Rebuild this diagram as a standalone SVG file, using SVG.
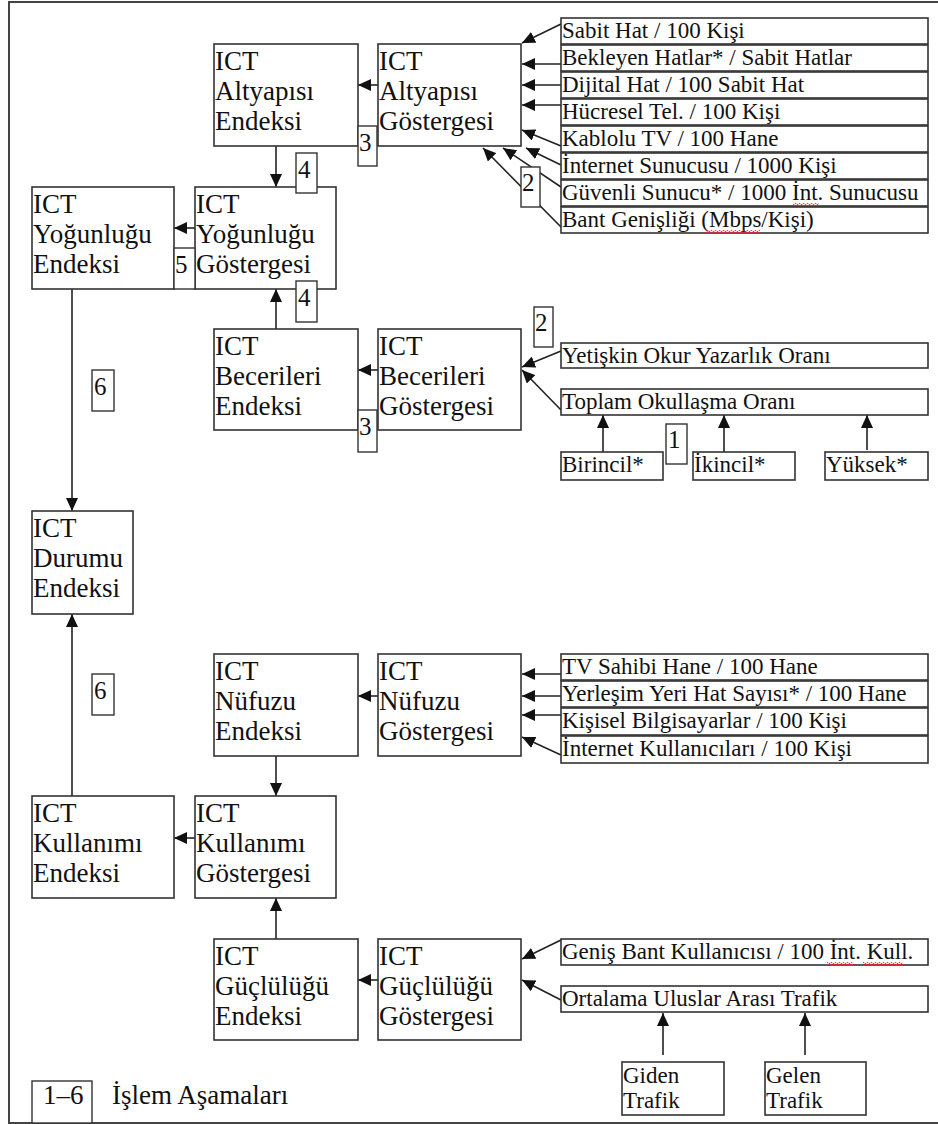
<svg xmlns="http://www.w3.org/2000/svg" width="938" height="1124" viewBox="0 0 938 1124">
<style>
.box{fill:#fff;stroke:#333;stroke-width:1.6}
.num{fill:#fff;stroke:#333;stroke-width:1.4}
text{font-family:'Liberation Serif',Tinos,'Times New Roman','DejaVu Serif',serif;fill:#111}
.t{font-size:27px}
.s{font-size:23px}
.n{font-size:25px}
.c{stroke:#222;stroke-width:1.6;fill:none}
.frame{stroke:#444;stroke-width:2;fill:none}
</style>
<defs>
<marker id="ah" markerUnits="userSpaceOnUse" markerWidth="14" markerHeight="12" refX="13" refY="6" orient="auto">
<path d="M0,0 L13,6 L0,12 z" fill="#111"/>
</marker>
<pattern id="wavy" patternUnits="userSpaceOnUse" width="4" height="3">
<polyline points="0,2.5 1,0.5 2,0.5 3,2.5 4,2.5" fill="none" stroke="#d33" stroke-width="0.9"/>
</pattern>
</defs>
<rect width="938" height="1124" fill="#fff"/>
<path class="frame" d="M938,2 H9 V1123 H938"/>

<g id="connectors">
<line class="c" x1="378" y1="85" x2="358" y2="85" marker-end="url(#ah)"/>
<line class="c" x1="276" y1="146" x2="276" y2="187" marker-end="url(#ah)"/>
<line class="c" x1="195" y1="228" x2="174" y2="228" marker-end="url(#ah)"/>
<line class="c" x1="276" y1="329" x2="276" y2="289" marker-end="url(#ah)"/>
<line class="c" x1="378" y1="370" x2="358" y2="370" marker-end="url(#ah)"/>
<line class="c" x1="72" y1="289" x2="72" y2="511" marker-end="url(#ah)"/>
<line class="c" x1="72" y1="796" x2="72" y2="614" marker-end="url(#ah)"/>
<line class="c" x1="378" y1="696" x2="358" y2="696" marker-end="url(#ah)"/>
<line class="c" x1="276" y1="756" x2="276" y2="796" marker-end="url(#ah)"/>
<line class="c" x1="195" y1="838" x2="174" y2="838" marker-end="url(#ah)"/>
<line class="c" x1="276" y1="939" x2="276" y2="898" marker-end="url(#ah)"/>
<line class="c" x1="378" y1="980" x2="358" y2="980" marker-end="url(#ah)"/>
<line class="c" x1="561" y1="24" x2="522" y2="43" marker-end="url(#ah)"/>
<line class="c" x1="561" y1="64" x2="522" y2="64" marker-end="url(#ah)"/>
<line class="c" x1="561" y1="85" x2="522" y2="85" marker-end="url(#ah)"/>
<line class="c" x1="561" y1="105" x2="522" y2="105" marker-end="url(#ah)"/>
<line class="c" x1="561" y1="146" x2="522" y2="130" marker-end="url(#ah)"/>
<line class="c" x1="561" y1="165" x2="526" y2="148" marker-end="url(#ah)"/>
<line class="c" x1="561" y1="187" x2="503" y2="148" marker-end="url(#ah)"/>
<line class="c" x1="561" y1="227" x2="483" y2="148" marker-end="url(#ah)"/>
<line class="c" x1="561" y1="351" x2="522" y2="367" marker-end="url(#ah)"/>
<line class="c" x1="561" y1="410" x2="522" y2="370" marker-end="url(#ah)"/>
<line class="c" x1="603" y1="452" x2="603" y2="415" marker-end="url(#ah)"/>
<line class="c" x1="724" y1="452" x2="724" y2="415" marker-end="url(#ah)"/>
<line class="c" x1="867" y1="450" x2="867" y2="415" marker-end="url(#ah)"/>
<line class="c" x1="561" y1="674" x2="522" y2="674" marker-end="url(#ah)"/>
<line class="c" x1="561" y1="696" x2="522" y2="696" marker-end="url(#ah)"/>
<line class="c" x1="561" y1="715" x2="522" y2="715" marker-end="url(#ah)"/>
<line class="c" x1="561" y1="755" x2="522" y2="737" marker-end="url(#ah)"/>
<line class="c" x1="561" y1="940" x2="522" y2="959" marker-end="url(#ah)"/>
<line class="c" x1="561" y1="1000" x2="522" y2="980" marker-end="url(#ah)"/>
<line class="c" x1="663" y1="1055" x2="663" y2="1013" marker-end="url(#ah)"/>
<line class="c" x1="805" y1="1055" x2="805" y2="1013" marker-end="url(#ah)"/>
</g>

<g id="altyapisi-endeksi"><rect class="box" x="214" y="44" width="144" height="102"/>
<text class="t" x="215" y="70">ICT</text><text class="t" x="215" y="100">Altyapısı</text><text class="t" x="215" y="130">Endeksi</text></g>
<g id="altyapisi-gostergesi"><rect class="box" x="378" y="44" width="143" height="102"/>
<text class="t" x="379" y="70">ICT</text><text class="t" x="379" y="100">Altyapısı</text><text class="t" x="379" y="130">Göstergesi</text></g>
<g id="yogunlugu-endeksi"><rect class="box" x="32" y="187" width="142" height="102"/>
<text class="t" x="33" y="213">ICT</text><text class="t" x="33" y="243">Yoğunluğu</text><text class="t" x="33" y="273">Endeksi</text></g>
<g id="yogunlugu-gostergesi"><rect class="box" x="195" y="187" width="141" height="102"/>
<text class="t" x="196" y="213">ICT</text><text class="t" x="196" y="243">Yoğunluğu</text><text class="t" x="196" y="273">Göstergesi</text></g>
<g id="becerileri-endeksi"><rect class="box" x="214" y="329" width="144" height="101"/>
<text class="t" x="215" y="355">ICT</text><text class="t" x="215" y="385">Becerileri</text><text class="t" x="215" y="415">Endeksi</text></g>
<g id="becerileri-gostergesi"><rect class="box" x="378" y="329" width="143" height="101"/>
<text class="t" x="379" y="355">ICT</text><text class="t" x="379" y="385">Becerileri</text><text class="t" x="379" y="415">Göstergesi</text></g>
<g id="durumu-endeksi"><rect class="box" x="32" y="511" width="101" height="103"/>
<text class="t" x="33" y="537">ICT</text><text class="t" x="33" y="567">Durumu</text><text class="t" x="33" y="597">Endeksi</text></g>
<g id="nufuzu-endeksi"><rect class="box" x="214" y="654" width="144" height="102"/>
<text class="t" x="215" y="680">ICT</text><text class="t" x="215" y="710">Nüfuzu</text><text class="t" x="215" y="740">Endeksi</text></g>
<g id="nufuzu-gostergesi"><rect class="box" x="378" y="654" width="143" height="102"/>
<text class="t" x="379" y="680">ICT</text><text class="t" x="379" y="710">Nüfuzu</text><text class="t" x="379" y="740">Göstergesi</text></g>
<g id="kullanimi-endeksi"><rect class="box" x="32" y="796" width="142" height="102"/>
<text class="t" x="33" y="822">ICT</text><text class="t" x="33" y="852">Kullanımı</text><text class="t" x="33" y="882">Endeksi</text></g>
<g id="kullanimi-gostergesi"><rect class="box" x="195" y="796" width="141" height="102"/>
<text class="t" x="196" y="822">ICT</text><text class="t" x="196" y="852">Kullanımı</text><text class="t" x="196" y="882">Göstergesi</text></g>
<g id="guclulugu-endeksi"><rect class="box" x="214" y="939" width="144" height="101"/>
<text class="t" x="215" y="965">ICT</text><text class="t" x="215" y="995">Güçlülüğü</text><text class="t" x="215" y="1025">Endeksi</text></g>
<g id="guclulugu-gostergesi"><rect class="box" x="378" y="939" width="143" height="101"/>
<text class="t" x="379" y="965">ICT</text><text class="t" x="379" y="995">Güçlülüğü</text><text class="t" x="379" y="1025">Göstergesi</text></g>

<g id="altyapi-inputs">
<g id="sabit-hat"><rect class="box" x="561" y="18" width="367" height="26"/><text class="s" x="562" y="38">Sabit Hat / 100 Kişi</text></g>
<g id="bekleyen"><rect class="box" x="561" y="45" width="367" height="26"/><text class="s" x="562" y="65">Bekleyen Hatlar* / Sabit Hatlar</text></g>
<g id="dijital"><rect class="box" x="561" y="72" width="367" height="26"/><text class="s" x="562" y="92">Dijital Hat / 100 Sabit Hat</text></g>
<g id="hucresel"><rect class="box" x="561" y="99" width="367" height="26"/><text class="s" x="562" y="119">Hücresel Tel. / 100 Kişi</text></g>
<g id="kablolu"><rect class="box" x="561" y="126" width="367" height="26"/><text class="s" x="562" y="146">Kablolu TV / 100 Hane</text></g>
<g id="internet-sunucusu"><rect class="box" x="561" y="153" width="367" height="26"/><text class="s" x="562" y="173">İnternet Sunucusu / 1000 Kişi</text></g>
<g id="guvenli"><rect class="box" x="561" y="180" width="367" height="26"/><text class="s" x="562" y="200">Güvenli Sunucu* / 1000 İnt. Sunucusu</text></g>
<g id="bant"><rect class="box" x="561" y="207" width="367" height="26"/><text class="s" x="562" y="227">Bant Genişliği (Mbps/Kişi)</text></g>
</g>

<g id="beceri-inputs">
<g id="yetiskin"><rect class="box" x="561" y="343" width="367" height="25"/><text class="s" x="562" y="363">Yetişkin Okur Yazarlık Oranı</text></g>
<g id="toplam"><rect class="box" x="561" y="389" width="367" height="26"/><text class="s" x="562" y="409">Toplam Okullaşma Oranı</text></g>
<g id="birincil"><rect class="box" x="561" y="452" width="102" height="28"/><text class="s" x="562" y="472">Birincil*</text></g>
<g id="ikincil"><rect class="box" x="693" y="452" width="102" height="28"/><text class="s" x="694" y="472">İkincil*</text></g>
<g id="yuksek"><rect class="box" x="825" y="452" width="103" height="28"/><text class="s" x="826" y="472">Yüksek*</text></g>
</g>

<g id="nufuz-inputs">
<g id="tv"><rect class="box" x="561" y="654" width="367" height="26"/><text class="s" x="562" y="674">TV Sahibi Hane / 100 Hane</text></g>
<g id="yerlesim"><rect class="box" x="561" y="681" width="367" height="26"/><text class="s" x="562" y="701">Yerleşim Yeri Hat Sayısı* / 100 Hane</text></g>
<g id="kisisel"><rect class="box" x="561" y="708" width="367" height="27"/><text class="s" x="562" y="728">Kişisel Bilgisayarlar / 100 Kişi</text></g>
<g id="internet-kull"><rect class="box" x="561" y="736" width="367" height="27"/><text class="s" x="562" y="756">İnternet Kullanıcıları / 100 Kişi</text></g>
</g>

<g id="guc-inputs">
<g id="genis"><rect class="box" x="561" y="939" width="367" height="26"/><text class="s" x="562" y="959">Geniş Bant Kullanıcısı / 100 İnt. Kull.</text></g>
<g id="ortalama"><rect class="box" x="561" y="986" width="367" height="26"/><text class="s" x="562" y="1006">Ortalama Uluslar Arası Trafik</text></g>
<g id="giden"><rect class="box" x="622" y="1062" width="102" height="53"/><text class="s" x="623" y="1083">Giden</text><text class="s" x="623" y="1108">Trafik</text></g>
<g id="gelen"><rect class="box" x="765" y="1062" width="101" height="53"/><text class="s" x="766" y="1083">Gelen</text><text class="s" x="766" y="1108">Trafik</text></g>
</g>

<g id="spellcheck">
<rect x="706" y="230" width="54" height="3" fill="url(#wavy)"/>
<rect x="793" y="203" width="26" height="3" fill="url(#wavy)"/>
<rect x="827" y="962" width="26" height="3" fill="url(#wavy)"/>
<rect x="863" y="962" width="40" height="3" fill="url(#wavy)"/>
</g>

<g id="step-labels">
<g id="s3a"><rect class="num" x="358" y="126" width="19" height="40"/><text class="n" x="359" y="151">3</text></g>
<g id="s4a"><rect class="num" x="296" y="153" width="21" height="40"/><text class="n" x="298" y="178">4</text></g>
<g id="s5"><rect class="num" x="174" y="248" width="21" height="41"/><text class="n" x="175" y="273">5</text></g>
<g id="s4b"><rect class="num" x="296" y="281" width="21" height="41"/><text class="n" x="298" y="306">4</text></g>
<g id="s2a"><rect class="num" x="521" y="167" width="19" height="40"/><text class="n" x="522" y="191">2</text></g>
<g id="s2b"><rect class="num" x="534" y="307" width="19" height="40"/><text class="n" x="535" y="331">2</text></g>
<g id="s3b"><rect class="num" x="358" y="410" width="19" height="42"/><text class="n" x="359" y="435">3</text></g>
<g id="s1"><rect class="num" x="666" y="424" width="21" height="40"/><text class="n" x="668" y="448">1</text></g>
<g id="s6a"><rect class="num" x="92" y="370" width="22" height="41"/><text class="n" x="94" y="395">6</text></g>
<g id="s6b"><rect class="num" x="92" y="674" width="22" height="41"/><text class="n" x="94" y="699">6</text></g>
</g>

<g id="legend">
<rect class="num" x="32" y="1081" width="60" height="42"/>
<text class="t" x="43" y="1104">1–6</text>
<text class="t" x="112" y="1104">İşlem Aşamaları</text>
</g>
</svg>
